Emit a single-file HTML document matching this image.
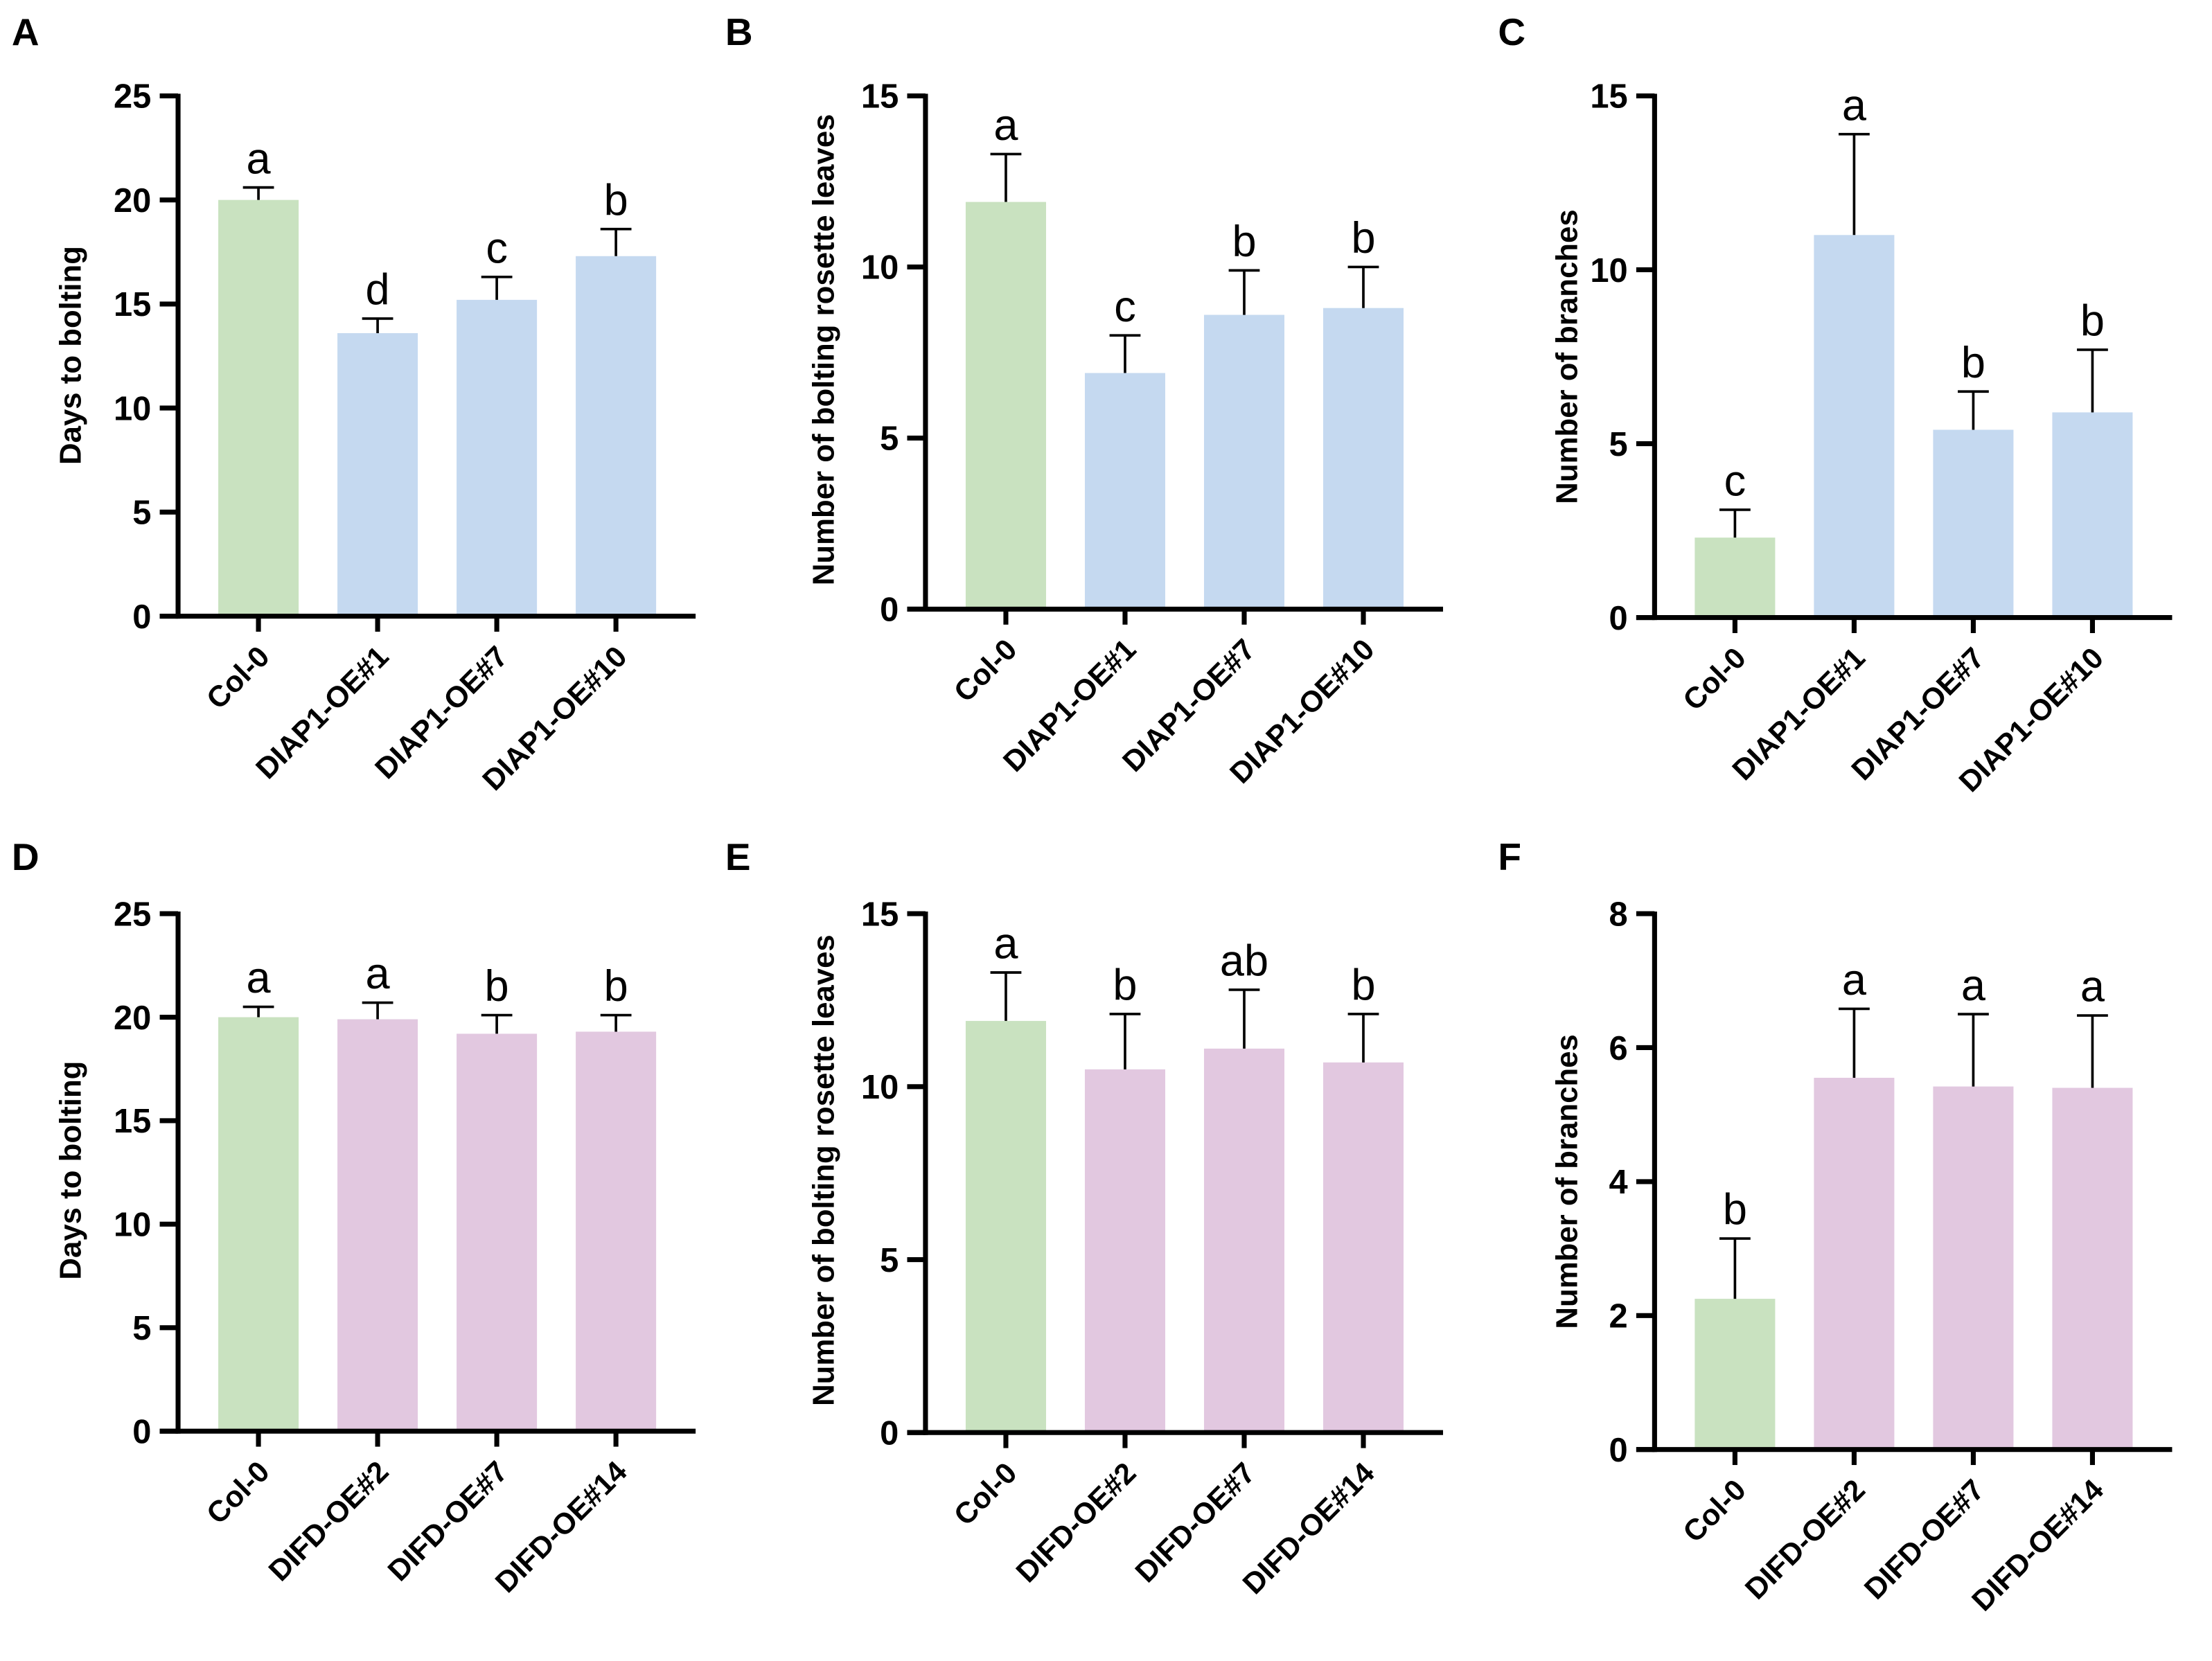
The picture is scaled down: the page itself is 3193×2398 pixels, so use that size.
<!DOCTYPE html>
<html><head><meta charset="utf-8"><style>
html,body{margin:0;padding:0;background:#fff}
svg{display:block}
text{font-family:"Liberation Sans",Arial,sans-serif}
</style></head><body>
<svg id="fig" width="3193" height="2398" viewBox="0 0 1568 1178" xmlns="http://www.w3.org/2000/svg"></svg>
<script>
const catsTop = ["Col-0","DIAP1-OE#1","DIAP1-OE#7","DIAP1-OE#10"];
const catsBot = ["Col-0","DIFD-OE#2","DIFD-OE#7","DIFD-OE#14"];
const valsA = [20.0,13.6,15.2,17.3];
const errA  = [20.6,14.3,16.3,18.6];
const letA  = ["a","d","c","b"];
const valsB = [11.9,6.9,8.6,8.8];
const errB  = [13.3,8.0,9.9,10.0];
const letB  = ["a","c","b","b"];
const valsC = [2.3,11.0,5.4,5.9];
const errC  = [3.1,13.9,6.5,7.7];
const letC  = ["c","a","b","b"];
const valsD = [20.0,19.9,19.2,19.3];
const errD  = [20.5,20.7,20.1,20.1];
const letD  = ["a","a","b","b"];
const valsE = [11.9,10.5,11.1,10.7];
const errE  = [13.3,12.1,12.8,12.1];
const letE  = ["a","b","ab","b"];
const valsF = [2.25,5.55,5.42,5.4];
const errF  = [3.15,6.58,6.5,6.48];
const letF  = ["b","a","a","a"];
const ticks25 = [0,5,10,15,20,25];
const ticks15 = [0,5,10,15];
const ticks8 = [0,2,4,6,8];

const NS="http://www.w3.org/2000/svg";
const svg=document.getElementById('fig');
function mk(tag,attrs,parent){const e=document.createElementNS(NS,tag);for(const k in attrs)e.setAttribute(k,attrs[k]);(parent||svg).appendChild(e);return e;}

function panel(p){
  const g=mk('g',{});
  
  
  const ymax=p.ticks[p.ticks.length-1];
  const y=v=>p.y0-(p.y0-p.yTop)*v/ymax;
  const step=84.5;
  const x=i=>p.ax+57+i*step;
  const bw=57;
  const pl=mk('text',{x:p.lx,y:p.ly,'font-size':27,'font-weight':'bold'},g);
  pl.textContent=p.id;
  
  
  p.vals.forEach((v,i)=>{
    const r=mk('rect',{x:x(i)-bw/2,y:y(v),width:bw,height:p.y0-y(v),fill:i===0?'#c9e2c0':p.color},g);
    
    
    const eb=mk('path',{d:`M${x(i)},${y(v)}V${y(p.err[i])}M${x(i)-11},${y(p.err[i])}H${x(i)+11}`,stroke:'#000','stroke-width':1.8,fill:'none'},g);
    
    
    const t=mk('text',{x:x(i),y:y(p.err[i])-10,'font-size':31,'text-anchor':'middle'},g);
    t.textContent=p.lets[i];
    
    
    const tk=mk('line',{x1:x(i),x2:x(i),y1:p.y0,y2:p.y0+11,stroke:'#000','stroke-width':3.5},g);
    
    
    const lab=mk('text',{x:0,y:0,'font-size':21,'font-weight':'bold','text-anchor':'end',transform:`translate(${x(i)+9},${p.y0+30}) rotate(-45)`},g);
    lab.textContent=p.cats[i];
    
    
  });
  const ya=mk('line',{x1:p.ax,x2:p.ax,y1:p.yTop-1.5,y2:p.y0+1.75,stroke:'#000','stroke-width':3.5},g);
  
  
  const xa=mk('line',{x1:p.ax-13,x2:p.ax+367,y1:p.y0,y2:p.y0,stroke:'#000','stroke-width':3.5},g);
  
  
  p.ticks.forEach(t=>{
    const l=mk('line',{x1:p.ax-13,x2:p.ax,y1:y(t),y2:y(t),stroke:'#000','stroke-width':3.5},g);
    
    
    const tx=mk('text',{x:p.ax-19,y:y(t)+8.5,'font-size':24,'font-weight':'bold','text-anchor':'end'},g);
    tx.textContent=t;
    
    
  });
  const yt=mk('text',{x:0,y:0,'font-size':21.5,'font-weight':'bold','text-anchor':'middle',transform:`translate(${p.tx},${p.ty}) rotate(-90)`},g);
  yt.textContent=p.title;
  
  
}
const blue='#c5d9f0', pink='#e2c8e0';
panel({id:'A',lx:8,ly:32,ax:126,yTop:68,y0:437,ticks:ticks25,vals:valsA,err:errA,lets:letA,cats:catsTop,color:blue,title:'Days to bolting',tx:57,ty:252});
panel({id:'B',lx:514,ly:32,ax:656,yTop:68,y0:432,ticks:ticks15,vals:valsB,err:errB,lets:letB,cats:catsTop,color:blue,title:'Number of bolting rosette leaves',tx:591,ty:248});
panel({id:'C',lx:1062,ly:32,ax:1173,yTop:68,y0:438,ticks:ticks15,vals:valsC,err:errC,lets:letC,cats:catsTop,color:blue,title:'Number of branches',tx:1118,ty:253});
panel({id:'D',lx:8,ly:617,ax:126,yTop:648,y0:1015,ticks:ticks25,vals:valsD,err:errD,lets:letD,cats:catsBot,color:pink,title:'Days to bolting',tx:57,ty:830});
panel({id:'E',lx:514,ly:617,ax:656,yTop:648,y0:1016,ticks:ticks15,vals:valsE,err:errE,lets:letE,cats:catsBot,color:pink,title:'Number of bolting rosette leaves',tx:591,ty:830});
panel({id:'F',lx:1062,ly:617,ax:1173,yTop:648,y0:1028,ticks:ticks8,vals:valsF,err:errF,lets:letF,cats:catsBot,color:pink,title:'Number of branches',tx:1118,ty:838});
</script>
</body></html>
